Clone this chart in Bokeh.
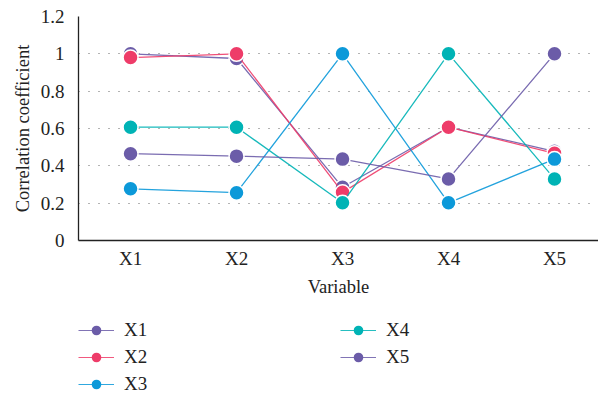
from bokeh.plotting import figure
from bokeh.layouts import column
from bokeh.models import Range1d, FixedTicker, NumeralTickFormatter, Legend, LegendItem
from bokeh.embed import file_html
from bokeh.resources import INLINE

categories = ["X1", "X2", "X3", "X4", "X5"]
series_names = ["X1", "X2", "X3", "X4", "X5"]
s_x1 = [1.0, 0.975, 0.285, 0.607, 0.478]
s_x2 = [0.98, 1.0, 0.258, 0.607, 0.467]
s_x3 = [0.277, 0.256, 1.0, 0.202, 0.436]
s_x4 = [0.607, 0.607, 0.202, 1.0, 0.33]
s_x5 = [0.465, 0.452, 0.436, 0.33, 1.0]
series = [s_x1, s_x2, s_x3, s_x4, s_x5]
colors = ["#6B5CA8", "#EE3C69", "#0C99D9", "#00B3B5", "#6B5CA8"]
y_ticks = [0, 0.2, 0.4, 0.6, 0.8, 1.0, 1.2]

FONT = "Liberation Serif"
xs = list(range(1, len(categories) + 1))

p = figure(width=598, height=300, output_backend="svg", toolbar_location=None,
           x_range=Range1d(0.509, 5.415), y_range=Range1d(0, 1.2),
           min_border_top=16, min_border_right=0, min_border_left=78, min_border_bottom=60)
p.outline_line_color = None
p.background_fill_color = "white"

for name, vals, c in zip(series_names, series, colors):
    p.line(xs, vals, line_color=c, line_width=1.3, line_alpha=0.9)
    p.scatter(xs, vals, size=15, fill_color=c, line_color="white", line_width=1.5)

p.xgrid.visible = False
p.ygrid.grid_line_color = "#666666"
p.ygrid.grid_line_dash = "1 9"
p.ygrid.grid_line_width = 1.2
p.ygrid.ticker = FixedTicker(ticks=y_ticks)

p.yaxis.ticker = FixedTicker(ticks=y_ticks)
p.yaxis.formatter = NumeralTickFormatter(format="0.[0]")
p.xaxis.ticker = FixedTicker(ticks=xs)
p.xaxis.major_label_overrides = {i: c for i, c in zip(xs, categories)}

for ax in (p.xaxis[0], p.yaxis[0]):
    ax.axis_line_color = "#222222"
    ax.axis_line_width = 1.3
    ax.major_tick_line_color = None
    ax.minor_tick_line_color = None
    ax.major_label_text_font = FONT
    ax.major_label_text_font_size = "19px"
    ax.major_label_text_color = "#222222"
    ax.axis_label_text_font = FONT
    ax.axis_label_text_font_size = "18.5px"
    ax.axis_label_text_font_style = "normal"
    ax.axis_label_text_color = "#222222"

p.xaxis.axis_label = "Variable"
p.yaxis.axis_label = "Correlation coefficient"
p.xaxis.major_label_standoff = 1
p.yaxis.major_label_standoff = 8
p.xaxis.axis_label_standoff = 5
p.yaxis.axis_label_standoff = 5

# legend panel below the chart: same series, drawn outside this panel's visible range
lg = figure(width=598, height=96, output_backend="svg", toolbar_location=None,
            x_axis_type=None, y_axis_type=None,
            x_range=Range1d(0.509, 5.415), y_range=Range1d(3, 4),
            min_border_top=0, min_border_right=0, min_border_left=0, min_border_bottom=0)
lg.grid.visible = False
lg.outline_line_color = None
items = []
for name, vals, c in zip(series_names, series, colors):
    r1 = lg.line(xs, vals, line_color=c, line_width=1.2, line_alpha=0.85)
    r2 = lg.scatter(xs, vals, fill_color=c, line_color=c, line_width=0)
    items.append(LegendItem(label=name, renderers=[r1, r2]))

legend = Legend(items=items, orientation="vertical", nrows=3, location=(0, 0),
                label_text_font=FONT, label_text_font_size="19px", label_text_color="#222222",
                glyph_width=36, glyph_height=24, label_height=24, label_width=213,
                label_standoff=10, spacing=3, padding=0, margin=0,
                border_line_color=None, background_fill_alpha=0)
lg.add_layout(legend, "center")

layout = column(p, lg, spacing=0)
open("out.html", "w").write(file_html(layout, INLINE))
